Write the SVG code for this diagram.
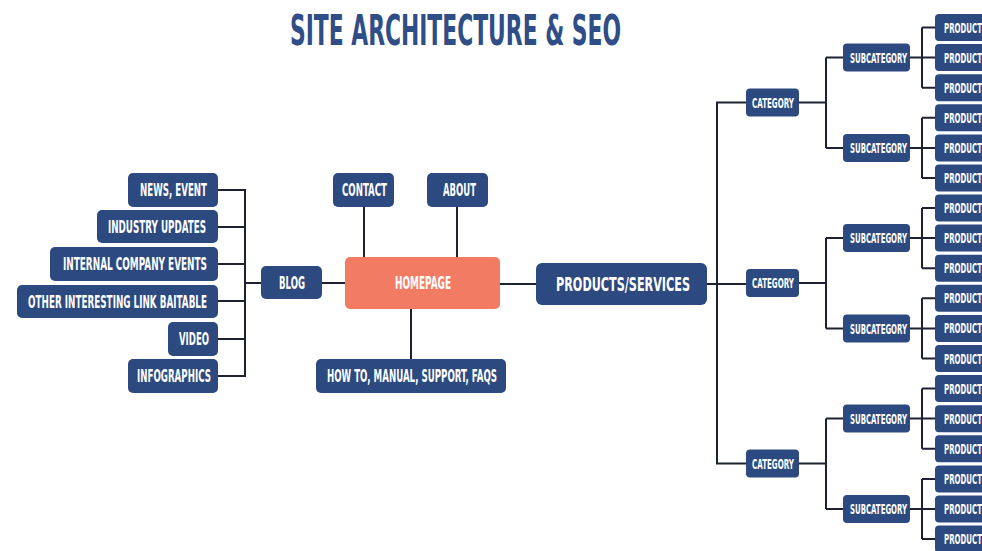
<svg xmlns="http://www.w3.org/2000/svg" width="982" height="551" viewBox="0 0 982 551">
<style>
.bg{fill:#ffffff}
.n{fill:#2c4a80}
.h{fill:#f27b63}
.t{font-family:"Liberation Sans Narrow","DejaVu Sans Condensed","Liberation Sans",sans-serif;font-weight:bold;fill:#ffffff;text-anchor:middle}
.l{font-size:17px}
.s{font-size:14px}
.p{font-size:14px;text-anchor:start}
.title{font-family:"Liberation Sans Narrow","DejaVu Sans Condensed","Liberation Sans",sans-serif;font-weight:bold;fill:#2f4d87;font-size:42px}
.c{stroke:#1e2230;stroke-width:2;fill:none}
</style>
<rect class="bg" x="0" y="0" width="982" height="551"/>
<text class="title" x="290" y="45" textLength="331" lengthAdjust="spacingAndGlyphs">SITE ARCHITECTURE &amp; SEO</text>
<g id="connectors" class="c">
<path d="M218 190H245M218 227H245M218 264H245M218 301H245M218 339H245M218 376H245M245 189V377M245 283H261M322 283H345"/>
<path d="M364 207V257M457 207V257M411 309V359M500 284H536"/>
<path d="M707 284H746M717 101.5V464.5M717 102.5H746M717 463.5H746"/>
<path d="M799 102.5H826M826 57.5V148M826 57.5H843M826 148H843"/>
<path d="M799 283H826M826 238V328.5M826 238H843M826 328.5H843"/>
<path d="M799 463.5H826M826 418.5V509M826 418.5H843M826 509H843"/>
<path d="M910 57.5H935M922 27.5V87.7M922 27.5H935M922 87.7H935"/>
<path d="M910 148H935M922 117.8V178M922 117.8H935M922 178H935"/>
<path d="M910 238H935M922 208V268.2M922 208H935M922 268.2H935"/>
<path d="M910 328.5H935M922 298.3V358.5M922 298.3H935M922 358.5H935"/>
<path d="M910 418.5H935M922 388.6V448.8M922 388.6H935M922 448.8H935"/>
<path d="M910 509H935M922 478.9V539M922 478.9H935M922 539H935"/>
</g>
<g id="news"><rect class="n" x="128" y="173" width="90" height="34" rx="5"/><text class="t l" x="173.5" y="196" textLength="67" lengthAdjust="spacingAndGlyphs">NEWS, EVENT</text></g>
<g id="industry"><rect class="n" x="97" y="210" width="121" height="33" rx="5"/><text class="t l" x="157" y="233" textLength="98" lengthAdjust="spacingAndGlyphs">INDUSTRY UPDATES</text></g>
<g id="internal"><rect class="n" x="50" y="247" width="168" height="34" rx="5"/><text class="t l" x="135" y="270" textLength="144" lengthAdjust="spacingAndGlyphs">INTERNAL COMPANY EVENTS</text></g>
<g id="other"><rect class="n" x="17" y="285" width="201" height="33" rx="5"/><text class="t l" x="117.5" y="307.5" textLength="179" lengthAdjust="spacingAndGlyphs">OTHER INTERESTING LINK BAITABLE</text></g>
<g id="video"><rect class="n" x="168" y="322" width="50" height="34" rx="5"/><text class="t l" x="194" y="345" textLength="30" lengthAdjust="spacingAndGlyphs">VIDEO</text></g>
<g id="infographics"><rect class="n" x="128" y="359" width="90" height="34" rx="5"/><text class="t l" x="174" y="382" textLength="74" lengthAdjust="spacingAndGlyphs">INFOGRAPHICS</text></g>
<g id="blog"><rect class="n" x="261" y="266" width="61" height="33" rx="5"/><text class="t l" x="292" y="289" textLength="26" lengthAdjust="spacingAndGlyphs">BLOG</text></g>
<g id="contact"><rect class="n" x="333" y="173" width="61" height="34" rx="5"/><text class="t l" x="364.5" y="196" textLength="45" lengthAdjust="spacingAndGlyphs">CONTACT</text></g>
<g id="about"><rect class="n" x="427" y="173" width="61" height="34" rx="5"/><text class="t l" x="459.5" y="196" textLength="33" lengthAdjust="spacingAndGlyphs">ABOUT</text></g>
<g id="homepage"><rect class="h" x="345" y="257" width="155" height="52" rx="5"/><text class="t l" x="423" y="289" textLength="56" lengthAdjust="spacingAndGlyphs">HOMEPAGE</text></g>
<g id="howto"><rect class="n" x="316" y="359" width="190" height="34" rx="5"/><text class="t l" x="412" y="382" textLength="170" lengthAdjust="spacingAndGlyphs">HOW TO, MANUAL, SUPPORT, FAQS</text></g>
<g id="products-services"><rect class="n" x="536" y="263" width="171" height="42" rx="6"/><text class="t" style="font-size:20px" x="623" y="291" textLength="134" lengthAdjust="spacingAndGlyphs">PRODUCTS/SERVICES</text></g>
<g id="category1"><rect class="n" x="746" y="88.5" width="53" height="28" rx="4"/><text class="t s" x="773" y="107.5" textLength="42" lengthAdjust="spacingAndGlyphs">CATEGORY</text></g>
<g id="category2"><rect class="n" x="746" y="269" width="53" height="28" rx="4"/><text class="t s" x="773" y="288" textLength="42" lengthAdjust="spacingAndGlyphs">CATEGORY</text></g>
<g id="category3"><rect class="n" x="746" y="449.5" width="53" height="28" rx="4"/><text class="t s" x="773" y="468.5" textLength="42" lengthAdjust="spacingAndGlyphs">CATEGORY</text></g>
<g id="sub1"><rect class="n" x="843" y="43.5" width="67" height="28" rx="4"/><text class="t s" x="878.5" y="62.5" textLength="57" lengthAdjust="spacingAndGlyphs">SUBCATEGORY</text></g>
<g id="sub2"><rect class="n" x="843" y="134" width="67" height="28" rx="4"/><text class="t s" x="878.5" y="153" textLength="57" lengthAdjust="spacingAndGlyphs">SUBCATEGORY</text></g>
<g id="sub3"><rect class="n" x="843" y="224" width="67" height="28" rx="4"/><text class="t s" x="878.5" y="243" textLength="57" lengthAdjust="spacingAndGlyphs">SUBCATEGORY</text></g>
<g id="sub4"><rect class="n" x="843" y="314.5" width="67" height="28" rx="4"/><text class="t s" x="878.5" y="333.5" textLength="57" lengthAdjust="spacingAndGlyphs">SUBCATEGORY</text></g>
<g id="sub5"><rect class="n" x="843" y="404.5" width="67" height="28" rx="4"/><text class="t s" x="878.5" y="423.5" textLength="57" lengthAdjust="spacingAndGlyphs">SUBCATEGORY</text></g>
<g id="sub6"><rect class="n" x="843" y="495" width="67" height="28" rx="4"/><text class="t s" x="878.5" y="514" textLength="57" lengthAdjust="spacingAndGlyphs">SUBCATEGORY</text></g>
<g id="prod1"><rect class="n" x="935" y="14" width="60" height="27" rx="4"/><text class="t p" x="944" y="32.5" textLength="43" lengthAdjust="spacingAndGlyphs">PRODUCTS</text></g>
<g id="prod2"><rect class="n" x="935" y="44.1" width="60" height="27" rx="4"/><text class="t p" x="944" y="62.6" textLength="43" lengthAdjust="spacingAndGlyphs">PRODUCTS</text></g>
<g id="prod3"><rect class="n" x="935" y="74.2" width="60" height="27" rx="4"/><text class="t p" x="944" y="92.7" textLength="43" lengthAdjust="spacingAndGlyphs">PRODUCTS</text></g>
<g id="prod4"><rect class="n" x="935" y="104.3" width="60" height="27" rx="4"/><text class="t p" x="944" y="122.8" textLength="43" lengthAdjust="spacingAndGlyphs">PRODUCTS</text></g>
<g id="prod5"><rect class="n" x="935" y="134.4" width="60" height="27" rx="4"/><text class="t p" x="944" y="152.9" textLength="43" lengthAdjust="spacingAndGlyphs">PRODUCTS</text></g>
<g id="prod6"><rect class="n" x="935" y="164.4" width="60" height="27" rx="4"/><text class="t p" x="944" y="182.9" textLength="43" lengthAdjust="spacingAndGlyphs">PRODUCTS</text></g>
<g id="prod7"><rect class="n" x="935" y="194.5" width="60" height="27" rx="4"/><text class="t p" x="944" y="213" textLength="43" lengthAdjust="spacingAndGlyphs">PRODUCTS</text></g>
<g id="prod8"><rect class="n" x="935" y="224.6" width="60" height="27" rx="4"/><text class="t p" x="944" y="243.1" textLength="43" lengthAdjust="spacingAndGlyphs">PRODUCTS</text></g>
<g id="prod9"><rect class="n" x="935" y="254.7" width="60" height="27" rx="4"/><text class="t p" x="944" y="273.2" textLength="43" lengthAdjust="spacingAndGlyphs">PRODUCTS</text></g>
<g id="prod10"><rect class="n" x="935" y="284.8" width="60" height="27" rx="4"/><text class="t p" x="944" y="303.3" textLength="43" lengthAdjust="spacingAndGlyphs">PRODUCTS</text></g>
<g id="prod11"><rect class="n" x="935" y="314.9" width="60" height="27" rx="4"/><text class="t p" x="944" y="333.4" textLength="43" lengthAdjust="spacingAndGlyphs">PRODUCTS</text></g>
<g id="prod12"><rect class="n" x="935" y="345" width="60" height="27" rx="4"/><text class="t p" x="944" y="363.5" textLength="43" lengthAdjust="spacingAndGlyphs">PRODUCTS</text></g>
<g id="prod13"><rect class="n" x="935" y="375.1" width="60" height="27" rx="4"/><text class="t p" x="944" y="393.6" textLength="43" lengthAdjust="spacingAndGlyphs">PRODUCTS</text></g>
<g id="prod14"><rect class="n" x="935" y="405.2" width="60" height="27" rx="4"/><text class="t p" x="944" y="423.7" textLength="43" lengthAdjust="spacingAndGlyphs">PRODUCTS</text></g>
<g id="prod15"><rect class="n" x="935" y="435.3" width="60" height="27" rx="4"/><text class="t p" x="944" y="453.8" textLength="43" lengthAdjust="spacingAndGlyphs">PRODUCTS</text></g>
<g id="prod16"><rect class="n" x="935" y="465.4" width="60" height="27" rx="4"/><text class="t p" x="944" y="483.9" textLength="43" lengthAdjust="spacingAndGlyphs">PRODUCTS</text></g>
<g id="prod17"><rect class="n" x="935" y="495.4" width="60" height="27" rx="4"/><text class="t p" x="944" y="513.9" textLength="43" lengthAdjust="spacingAndGlyphs">PRODUCTS</text></g>
<g id="prod18"><rect class="n" x="935" y="525.5" width="60" height="27" rx="4"/><text class="t p" x="944" y="544" textLength="43" lengthAdjust="spacingAndGlyphs">PRODUCTS</text></g>
</svg>
